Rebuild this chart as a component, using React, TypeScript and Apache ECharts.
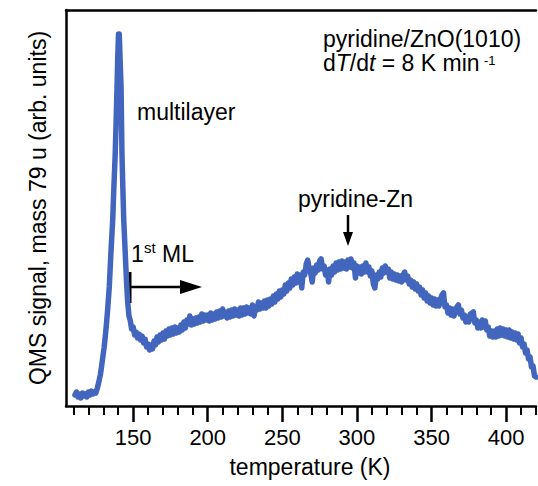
import React, { useEffect, useRef } from 'react';
import * as echarts from 'echarts';

// Multilayer desorption peak region (temperature in K, signal in arb. units)
const peakTemps = [111, 112, 113, 114, 115, 116, 117, 118, 119, 120, 121, 122, 123, 124, 125, 126, 127, 128, 128.5, 129.5, 130.5, 131.3, 132, 133, 134, 135, 136.3, 137, 138, 138.6, 139.2, 139.7, 140.2, 140.7, 141.3, 141.9, 142.5, 143.1, 143.7, 144.7, 145.5, 146.4, 147.2];
const peakSignal = [11, 14, 9, 12, 8, 13, 10, 12, 9, 14, 11, 15, 12, 14, 13, 18, 24, 31, 36, 47, 58, 69, 80, 98, 119, 150, 186, 215, 253, 285, 319, 350, 372, 372, 345, 319, 253, 218, 186, 153, 126, 103, 90];

// Broad pyridine-Zn region, sampled every 1 K starting at 148 K
const broadStartT = 148;
const broadSignal = [
  86, 77, 79, 71, 74, 68, 72, 66, 70, 63,
  67, 59, 62, 56, 61, 57, 65, 61, 69, 64,
  71, 66, 73, 67, 75, 70, 77, 71, 78, 72,
  79, 73, 78, 74, 81, 76, 84, 78, 86, 82,
  90, 81, 87, 82, 88, 83, 89, 84, 92, 85,
  91, 86, 91, 85, 93, 86, 92, 87, 94, 88,
  95, 89, 97, 90, 94, 88, 95, 89, 96, 90,
  97, 91, 96, 90, 98, 91, 98, 92, 99, 93,
  98, 92, 101, 90, 99, 96, 104, 97, 103, 98,
  105, 98, 106, 100, 107, 102, 110, 104, 112, 107,
  115, 109, 116, 112, 121, 115, 123, 118, 127, 121,
  129, 123, 132, 124, 131, 118, 134, 131, 142, 146,
  137, 133, 124, 138, 133, 141, 136, 145, 147, 137,
  140, 131, 136, 124, 137, 131, 140, 134, 143, 136,
  144, 137, 145, 138, 144, 137, 146, 139, 147, 138,
  143, 128, 140, 133, 139, 132, 140, 134, 143, 134,
  139, 130, 135, 122, 118, 131, 127, 134, 129, 138,
  133, 140, 134, 137, 128, 134, 127, 132, 126, 131,
  125, 130, 124, 131, 134, 126, 130, 122, 126, 119,
  124, 117, 122, 115, 119, 111, 116, 108, 113, 105,
  110, 103, 108, 101, 107, 100, 106, 100, 107, 111,
  113, 99, 101, 93, 98, 91, 97, 90, 96, 99,
  101, 92, 96, 88, 91, 84, 89, 84, 92, 93,
  94, 83, 86, 78, 84, 78, 86, 79, 85, 76,
  79, 70, 75, 69, 75, 69, 77, 70, 78, 71,
  77, 70, 76, 69, 76, 68, 74, 67, 73, 66,
  72, 63, 68, 59, 62, 53, 56, 47, 49, 39,
  40, 30, 29,
];

const majorTicks = [150, 200, 250, 300, 350, 400];
const minorTicks = [110, 120, 130, 140, 160, 170, 180, 190, 210, 220, 230, 240, 260, 270, 280, 290, 310, 320, 330, 340, 360, 370, 380, 390, 410, 420];
const xMin = 105;
const xMax = 420;
const yMin = 0;
const yMax = 396;

const FONT = "'Liberation Sans', Arial, Helvetica, sans-serif";
const BLACK = '#000';
const LINE_BLUE = '#4266be';
const FS = 23;

export default function App() {
  const ref = useRef<HTMLDivElement>(null);

  useEffect(() => {
    document.body.style.margin = '0';
    const chart = echarts.init(ref.current as HTMLDivElement, null, { renderer: 'svg' });

    const data: number[][] = [
      ...peakTemps.map((t, i) => [t, peakSignal[i]]),
      ...broadSignal.map((v, i) => [broadStartT + i, v]),
    ];

    const axisLineStyle = { color: BLACK, width: 2.5 };

    chart.setOption({
      animation: false,
      backgroundColor: '#fff',
      grid: { left: 66, right: 2, top: 10, bottom: 80, outerBoundsMode: 'none' },
      xAxis: [
        {
          type: 'value',
          min: xMin,
          max: xMax,
          position: 'bottom',
          axisLine: { show: true, onZero: false, lineStyle: axisLineStyle },
          axisTick: { show: true, customValues: majorTicks, length: 16, lineStyle: { color: BLACK, width: 2.5 } },
          axisLabel: { show: true, customValues: majorTicks, margin: 20, fontSize: 22, color: BLACK, fontFamily: FONT },
          splitLine: { show: false },
        },
        {
          type: 'value',
          min: xMin,
          max: xMax,
          position: 'bottom',
          axisLine: { show: false, onZero: false },
          axisTick: { show: true, customValues: minorTicks, length: 9, lineStyle: { color: BLACK, width: 2 } },
          axisLabel: { show: false },
          splitLine: { show: false },
        },
        {
          type: 'value',
          min: xMin,
          max: xMax,
          position: 'top',
          axisLine: { show: true, onZero: false, lineStyle: axisLineStyle },
          axisTick: { show: false },
          axisLabel: { show: false },
          splitLine: { show: false },
        },
      ],
      yAxis: {
        type: 'value',
        min: yMin,
        max: yMax,
        axisLine: { show: true, onZero: false, lineStyle: axisLineStyle },
        axisTick: { show: false },
        axisLabel: { show: false },
        splitLine: { show: false },
      },
      series: [
        {
          type: 'line',
          xAxisIndex: 0,
          yAxisIndex: 0,
          data,
          showSymbol: false,
          silent: true,
          clip: true,
          lineStyle: { color: LINE_BLUE, width: 5.5, cap: 'round', join: 'round' },
        },
      ],
      graphic: [
        {
          type: 'text', x: 38, y: 208, rotation: Math.PI / 2,
          style: { text: 'QMS signal, mass 79 u (arb. units)', fontSize: FS, fontFamily: FONT, fill: BLACK, align: 'center', verticalAlign: 'middle' },
        },
        {
          type: 'text', x: 310, y: 467,
          style: { text: 'temperature (K)', fontSize: FS, fontFamily: FONT, fill: BLACK, align: 'center', verticalAlign: 'middle' },
        },
        {
          type: 'text', x: 323, y: 38.5,
          style: { text: 'pyridine/ZnO(1010)', fontSize: FS, lineHeight: 20, fontFamily: FONT, fill: BLACK, align: 'left', verticalAlign: 'middle' },
        },
        {
          type: 'text', x: 323, y: 62.5,
          style: {
            text: '{n|d}{i|T}{n|/d}{i|t}{n| = 8 K min}',
            fontSize: FS, fontFamily: FONT, fill: BLACK, align: 'left', verticalAlign: 'middle',
            rich: {
              n: { fontSize: FS, fontFamily: FONT, fill: BLACK },
              i: { fontSize: FS, fontFamily: FONT, fontStyle: 'italic', fill: BLACK },
            },
          },
        },
        {
          type: 'text', x: 484, y: 60,
          style: { text: '-1', fontSize: 13, lineHeight: 11, fontFamily: FONT, fill: BLACK, align: 'left', verticalAlign: 'middle' },
        },
        {
          type: 'text', x: 137, y: 112,
          style: { text: 'multilayer', fontSize: FS, fontFamily: FONT, fill: BLACK, align: 'left', verticalAlign: 'middle' },
        },
        {
          type: 'text', x: 355.5, y: 199,
          style: { text: 'pyridine-Zn', fontSize: FS, fontFamily: FONT, fill: BLACK, align: 'center', verticalAlign: 'middle' },
        },
        {
          type: 'line', shape: { x1: 348, y1: 215, x2: 348, y2: 235 },
          style: { stroke: BLACK, lineWidth: 2.5 },
        },
        {
          type: 'polygon', shape: { points: [[343, 232], [353, 232], [348, 246]] },
          style: { fill: BLACK },
        },
        {
          type: 'text', x: 131, y: 254,
          style: { text: '1', fontSize: FS, fontFamily: FONT, fill: BLACK, align: 'left', verticalAlign: 'middle' },
        },
        {
          type: 'text', x: 144, y: 247,
          style: { text: 'st', fontSize: 15, fontFamily: FONT, fill: BLACK, align: 'left', verticalAlign: 'middle' },
        },
        {
          type: 'text', x: 162, y: 254,
          style: { text: 'ML', fontSize: FS, fontFamily: FONT, fill: BLACK, align: 'left', verticalAlign: 'middle' },
        },
        {
          type: 'line', shape: { x1: 130, y1: 272, x2: 130, y2: 303 },
          style: { stroke: BLACK, lineWidth: 3 },
        },
        {
          type: 'line', shape: { x1: 130, y1: 287, x2: 184, y2: 287 },
          style: { stroke: BLACK, lineWidth: 2.5 },
        },
        {
          type: 'polygon', shape: { points: [[180, 280], [202, 287], [180, 294]] },
          style: { fill: BLACK },
        },
      ],
    });

    return () => chart.dispose();
  }, []);

  return <div ref={ref} style={{ position: 'fixed', left: 0, top: 0, width: 538, height: 486 }} />;
}
